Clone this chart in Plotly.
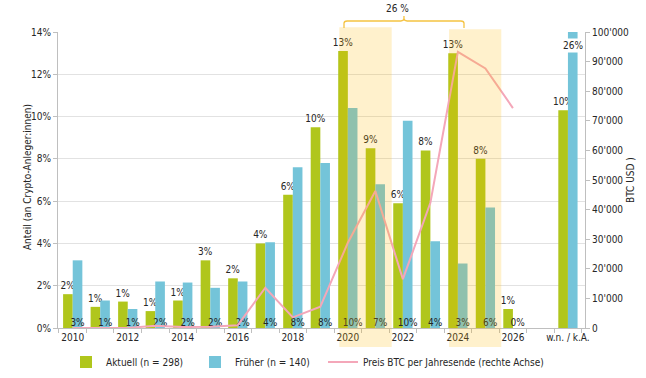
import plotly.graph_objects as go

categories = ["2010", "2011", "2012", "2013", "2014", "2015", "2016", "2017", "2018",
              "2019", "2020", "2021", "2022", "2023", "2024", "2025", "2026", "2027",
              "w.n. / k.A."]
aktuell = [1.6, 1.0, 1.25, 0.8, 1.3, 3.2, 2.35, 4.0, 6.3, 9.5, 13.1, 8.5, 5.9, 8.4,
           13.0, 8.0, 0.9, None, 10.3]
aktuell_labels = ["2%", "1%", "1%", "1%", "1%", "3%", "2%", "4%", "6%", "10%", "13%",
                  "9%", "6%", "8%", "13%", "8%", "1%", "", "10%"]
frueher = [3.2, 1.3, 0.9, 2.2, 2.15, 1.9, 2.2, 4.05, 7.6, 7.8, 10.4, 6.8, 9.8, 4.1,
           3.05, 5.7, 0.0, None, 26.0]
frueher_labels = ["3%", "1%", "1%", "2%", "2%", "2%", "2%", "4%", "8%", "8%", "10%",
                  "7%", "10%", "4%", "3%", "6%", "0%", "", "26%"]
btc_price = [0.3, 4.7, 13.5, 750, 320, 430, 960, 13600, 3600, 7200, 28800, 46300,
             16500, 42300, 93300, 87700, 74300, None, None]
left_ticks = [0, 2, 4, 6, 8, 10, 12, 14]
right_ticks = [0, 10000, 20000, 30000, 40000, 50000, 60000, 70000, 80000, 90000, 100000]
right_tick_labels = ["0", "10'000", "20'000", "30'000", "40'000", "50'000", "60'000",
                     "70'000", "80'000", "90'000", "100'000"]
bracket_label = "26 %"

FONT = "Tahoma, 'DejaVu Sans Condensed', 'DejaVu Sans', sans-serif"
GREEN = "#b0c61c"
BLUE = "#74c4d9"
PINK = "#f4a7b9"
TXT = "#262626"
AX = "#bfbfbf"

idx = list(range(len(categories)))
label_idx = idx[::2]
wn = categories.index("w.n. / k.A.")
blue_text_x = [i + 0.175 for i, l in zip(idx, frueher_labels) if l and i != wn]
blue_text = [l for i, l in zip(idx, frueher_labels) if l and i != wn]

fig = go.Figure()
fig.add_trace(go.Bar(
    x=idx, y=aktuell, name="Aktuell (n = 298)", marker=dict(color=GREEN, line=dict(width=0)),
    text=aktuell_labels, textposition="outside", constraintext="none",
    textfont=dict(family=FONT, size=10, color=TXT),
    cliponaxis=False, legend="legend", hoverinfo="skip"))
fig.add_trace(go.Bar(
    x=idx, y=frueher, name="Früher (n = 140)", marker=dict(color=BLUE, line=dict(width=0)),
    textposition="none", legend="legend2", hoverinfo="skip"))
fig.add_trace(go.Scatter(
    x=idx, y=btc_price, name="Preis BTC per Jahresende (rechte Achse)", mode="lines",
    line=dict(color=PINK, width=2), yaxis="y2", legend="legend3", connectgaps=False))
fig.add_trace(go.Scatter(
    x=blue_text_x, y=[0] * len(blue_text), mode="text", text=blue_text,
    textposition="top center", textfont=dict(family=FONT, size=10, color=TXT),
    showlegend=False, cliponaxis=False, hoverinfo="skip"))

annotations = [
    dict(x=wn + 0.175, y=13.35, xref="x", yref="y", text=frueher_labels[wn], showarrow=False,
         bgcolor="white", borderpad=1, font=dict(family=FONT, size=10, color=TXT)),
    dict(x=-0.0588, y=0.51, xref="paper", yref="paper", text="Anteil (an Crypto-Anleger:innen)",
         textangle=-90, showarrow=False, xanchor="center", yanchor="middle",
         font=dict(family=FONT, size=10, color=TXT)),
    dict(x=1.0854, y=0.5, xref="paper", yref="paper", text="BTC USD )",
         textangle=-90, showarrow=False, xanchor="center", yanchor="middle",
         font=dict(family=FONT, size=10, color=TXT)),
    dict(x=0.645, y=1.081, xref="paper", yref="paper", text=bracket_label,
         showarrow=False, xanchor="center", yanchor="middle",
         font=dict(family=FONT, size=10, color=TXT)),
]

shapes = [
    dict(type="rect", xref="paper", yref="paper", x0=0.5338, x1=0.6332, y0=-0.064, y1=1.016,
         fillcolor="rgba(255,185,0,0.2)", line=dict(width=0), layer="above"),
    dict(type="rect", xref="paper", yref="paper", x0=0.742, x1=0.8412, y0=-0.064, y1=1.009,
         fillcolor="rgba(255,185,0,0.2)", line=dict(width=0), layer="above"),
]
x0, xm, x1 = 0.5427, 0.6565, 0.7704
yh, ye, yt = 1.0372, 1.0135, 1.054
dx, dy = 0.006, 0.008
path = (f"M{x0},{ye} L{x0},{yh - dy} Q{x0},{yh} {x0 + dx},{yh} L{xm - dx},{yh} "
        f"Q{xm},{yh} {xm},{yh + dy} L{xm},{yt} M{xm},{yh + dy} Q{xm},{yh} {xm + dx},{yh} "
        f"L{x1 - dx},{yh} Q{x1},{yh} {x1},{yh - dy} L{x1},{ye}")
shapes.append(dict(type="path", xref="paper", yref="paper", path=path,
                   line=dict(color="#f5c342", width=1.3), layer="above"))

legend_common = dict(orientation="h", yref="container", yanchor="middle", y=1 - 362 / 378,
                     xanchor="left", font=dict(family=FONT, size=10, color=TXT),
                     bgcolor="rgba(0,0,0,0)", borderwidth=0)

fig.update_layout(
    width=646, height=378,
    margin=dict(l=58, r=61, t=32, b=50, autoexpand=False),
    paper_bgcolor="white", plot_bgcolor="white",
    barmode="group", bargap=0.3, bargroupgap=0,
    font=dict(family=FONT, size=10, color=TXT),
    showlegend=True,
    legend=dict(x=(66 - 58) / 527, **legend_common),
    legend2=dict(x=(195 - 58) / 527, **legend_common),
    legend3=dict(x=(323 - 58) / 527, **legend_common),
    xaxis=dict(range=[-0.535, 18.62], tickmode="array", tickvals=label_idx,
               ticktext=[categories[i] for i in label_idx], ticks="", showgrid=False,
               showline=True, linecolor=AX, linewidth=1, zeroline=False,
               tickfont=dict(family=FONT, size=10, color=TXT),
               minor=dict(tickvals=[i - 0.5 for i in idx] + [idx[-1] + 0.5], ticks="outside",
                          ticklen=4, tickcolor=AX, showgrid=False)),
    yaxis=dict(range=[0, 14], tickmode="array", tickvals=left_ticks,
               ticktext=[f"{v}%" for v in left_ticks], showgrid=True, gridcolor="#e2e2e2",
               gridwidth=1, showline=True, linecolor=AX, ticks="outside", ticklen=4,
               tickcolor=AX, zeroline=False, tickfont=dict(family=FONT, size=10, color=TXT)),
    yaxis2=dict(range=[0, 100000], overlaying="y", side="right", tickmode="array",
                tickvals=right_ticks, ticktext=right_tick_labels, showgrid=False,
                showline=True, linecolor=AX, ticks="outside", ticklen=4, tickcolor=AX,
                zeroline=False, tickfont=dict(family=FONT, size=10, color=TXT)),
    annotations=annotations,
    shapes=shapes,
)

fig.write_html("out.html")
